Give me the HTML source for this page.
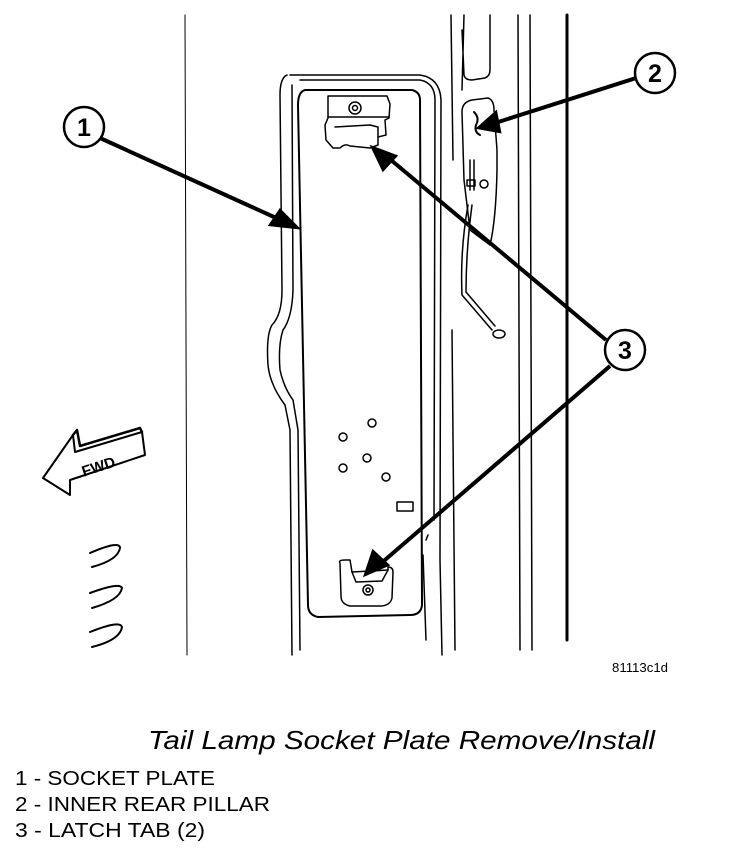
<!DOCTYPE html>
<html><head><style>
html,body{margin:0;padding:0;background:#fff;}
svg{display:block;}
</style></head><body>
<svg width="736" height="848" viewBox="0 0 736 848" xmlns="http://www.w3.org/2000/svg" font-family="Liberation Sans, sans-serif">
<g fill="none" stroke="#000" stroke-width="1.5" stroke-linejoin="round" stroke-linecap="round">
 <line x1="185" y1="15" x2="187" y2="655" stroke-width="1"/>
 <path d="M451 15 L453 160 M452 330 L455 650"/>
 <path d="M464 15 L462 90 M462 30 L464 75 Q465 80 472 80 L485 78 Q490 76 490 70 L490 15"/>
 <path d="M518 15 L520 650"/>
 <path d="M530 15 L532 650"/>
 <line x1="567" y1="15" x2="567" y2="640" stroke-width="3"/>
 <path d="M462 112 Q462 102 472 100 L488 98 Q494 100 494 110 L497 150 L497 170 Q496 220 490 245 L470 230 L464 180 Z"/>
 <path d="M474 112 Q480 118 476 125 Q474 132 480 135" stroke-width="2"/>
 <path d="M470 160 L470 190 M474 160 L474 190"/>
 <rect x="467" y="180" width="8" height="6"/>
 <circle cx="484" cy="184" r="4"/>
 <path d="M468 205 Q460 250 462 295 L492 330 M472 205 Q466 250 466 292 L495 326"/>
 <ellipse cx="499" cy="334" rx="6" ry="4"/>
 <path d="M290 75 L420 75 Q440 78 441 100 L440 560 L442 655 M287 75 Q280 78 280 95 L282 290 Q282 315 272 325 Q266 335 268 365 Q270 385 285 405 L290 430 L292 655"/>
 <path d="M300 80 L420 80 Q435 83 435 100 L434 520 M292 85 L293 290 Q292 318 283 330 Q278 345 280 370 Q284 388 293 400 L298 430 L300 650"/>
 <path d="M305 90 L412 90 Q420 92 420 100 L422 605 Q421 615 410 615 L318 617 Q308 615 308 605 L298 105 Q298 92 305 90 Z" stroke-width="2"/>
 <path d="M426 540 L428 535 M423 555 L426 640"/>
 <path d="M328 96 L387 96 L390 104 L389 118 L385 120 L386 135 L378 137 L378 145 L370 148 L350 146 Q345 143 340 148 L333 148 L326 140 L325 125 L328 118 Z"/>
 <path d="M328 117 L389 117 M335 127 L370 125 L378 127 L378 137"/>
 <circle cx="355" cy="108" r="6"/><circle cx="355" cy="108" r="2.5"/>
 <path d="M340 563 Q338 560 345 560 L350 560 L352 572 L388 570 L388 567 Q393 567 393 572 L392 598 Q390 606 380 606 L350 606 Q341 604 341 596 Z"/>
 <path d="M352 572 L356 582 L382 581 L388 570"/>
 <circle cx="368" cy="590" r="5"/><circle cx="368" cy="590" r="2"/>
 <circle cx="372" cy="423" r="4"/><circle cx="343" cy="437" r="4"/><circle cx="367" cy="458" r="4"/><circle cx="343" cy="468" r="4"/><circle cx="386" cy="477" r="4"/>
 <rect x="397" y="502" width="16" height="9"/>
 <path d="M43 478 L73 435 L75 452 L142 432 L145 455 L70 480 L70 495 Z" stroke-width="2"/>
 <path d="M73 435 L77 430 L80 446 L140 428 L142 432" stroke-width="2.5"/>
 <path d="M90 553 Q120 540 120 548 Q118 560 92 567" stroke-width="2"/>
 <path d="M90 593 Q120 582 122 588 Q120 600 92 608" stroke-width="2"/>
 <path d="M90 632 Q120 620 122 627 Q120 640 92 647" stroke-width="2"/>
</g>
<text x="80" y="471" font-size="15" font-weight="bold" transform="rotate(-18 100 462)">FWD</text>
<g stroke="#000" fill="#fff" stroke-width="2.5">
 <line x1="100" y1="138" x2="285" y2="222" stroke-width="4"/>
 <line x1="636" y1="78" x2="492" y2="124" stroke-width="4"/>
 <line x1="606" y1="340" x2="385" y2="155" stroke-width="4"/>
 <line x1="610" y1="366" x2="378" y2="566" stroke-width="4"/>
 <polygon points="298,228 270,225 280,210" fill="#000"/>
 <polygon points="478,128 496,112 500,132" fill="#000"/>
 <polygon points="372,147 396,156 383,170" fill="#000"/>
 <polygon points="365,575 373,551 388,565" fill="#000"/>
 <circle cx="84" cy="127" r="20"/>
 <circle cx="655" cy="73" r="20"/>
 <circle cx="625" cy="350" r="20"/>
</g>
<g font-size="25" font-weight="bold" text-anchor="middle">
 <text x="84" y="136">1</text><text x="655" y="82">2</text><text x="625" y="359">3</text>
</g>
<text x="612" y="672" font-size="13" textLength="56" lengthAdjust="spacingAndGlyphs">81113c1d</text>
<text x="148" y="749" font-size="26" font-style="italic" textLength="507" lengthAdjust="spacingAndGlyphs">Tail Lamp Socket Plate Remove/Install</text>
<g font-size="20">
 <text x="15" y="785" textLength="200" lengthAdjust="spacingAndGlyphs">1 - SOCKET PLATE</text>
 <text x="15" y="811" textLength="255" lengthAdjust="spacingAndGlyphs">2 - INNER REAR PILLAR</text>
 <text x="15" y="837" textLength="190" lengthAdjust="spacingAndGlyphs">3 - LATCH TAB (2)</text>
</g>
</svg>
</body></html>
